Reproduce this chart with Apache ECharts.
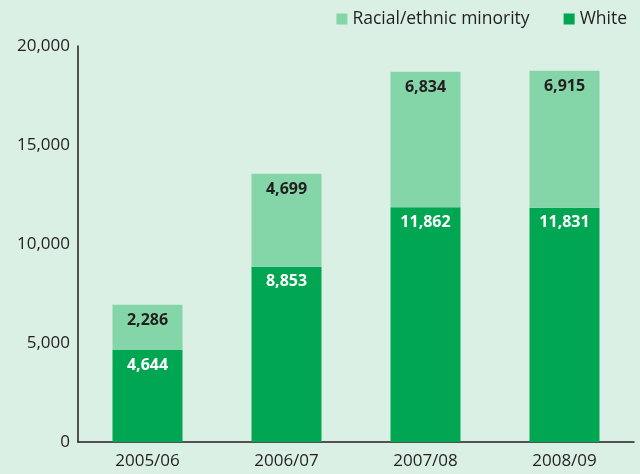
<!DOCTYPE html>
<html><head><meta charset="utf-8">
<script src="https://cdn.jsdelivr.net/npm/echarts@6/dist/echarts.min.js"></script>
<style>html,body{margin:0;padding:0;background:#daf0e4;}#c{width:640px;height:474px;}</style>
</head><body><div id="c"></div>
<script>
var categories = ['2005/06', '2006/07', '2007/08', '2008/09'];
var white = [4644, 8853, 11862, 11831];
var minority = [2286, 4699, 6834, 6915];
var yTicks = [0, 5000, 10000, 15000, 20000];

var font = '"Open Sans", "Noto Sans", sans-serif';
var chart = echarts.init(document.getElementById('c'), null, {renderer: 'canvas'});
function fmt(v){ return v.toLocaleString('en-US'); }
chart.setOption({
  backgroundColor: '#daf0e4',
  animation: false,
  textStyle: {fontFamily: font},
  legend: {
    right: 8, top: 5, itemWidth: 11, itemHeight: 11, itemGap: 34,
    icon: 'rect',
    textStyle: {fontSize: 17.5, color: '#231f20', fontFamily: font},
    data: ['Racial/ethnic minority', 'White']
  },
  grid: {left: 78, right: 6, top: 46, bottom: 32},
  xAxis: {
    type: 'category', data: categories,
    axisLine: {lineStyle: {color: '#231f20', width: 1.5}},
    axisTick: {show: false},
    axisLabel: {fontSize: 17, color: '#231f20', margin: 11, fontFamily: font}
  },
  yAxis: {
    type: 'value', min: yTicks[0], max: yTicks[yTicks.length-1], interval: 5000,
    axisLine: {show: true, lineStyle: {color: '#231f20', width: 1.5}},
    axisTick: {show: false},
    splitLine: {show: false},
    axisLabel: {fontSize: 17, color: '#231f20', margin: 8, fontFamily: font, formatter: function(v){return fmt(v);}}
  },
  series: [
    {name: 'White', type: 'bar', stack: 't', data: white, barWidth: 70,
     itemStyle: {color: '#00a651'},
     label: {show: true, position: 'insideTop', distance: 7, color: '#ffffff', fontWeight: 'bold', fontSize: 16, fontFamily: font, formatter: function(p){return fmt(p.value);}}},
    {name: 'Racial/ethnic minority', type: 'bar', stack: 't', data: minority, barWidth: 70,
     itemStyle: {color: '#84d5a8'},
     label: {show: true, position: 'insideTop', distance: 8, color: '#231f20', fontWeight: 'bold', fontSize: 16, fontFamily: font, formatter: function(p){return fmt(p.value);}}}
  ]
});
</script></body></html>
